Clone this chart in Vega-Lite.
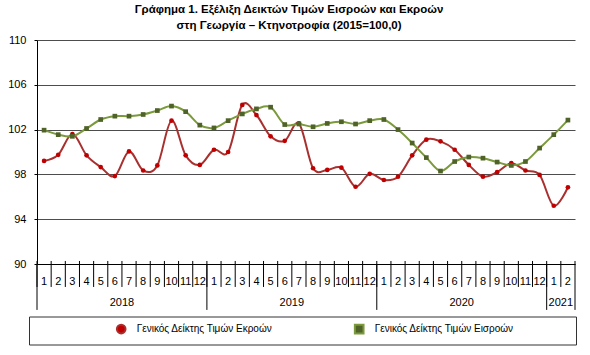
{
  "$schema": "https://vega.github.io/schema/vega-lite/v6.json",
  "width": 538,
  "height": 224,
  "autosize": "none",
  "padding": {"left": 37, "top": 40, "right": 15, "bottom": 91},
  "background": "white",
  "title": {
    "text": ["Γράφημα 1. Εξέλιξη Δεικτών Τιμών Εισροών και Εκροών", "στη Γεωργία – Κτηνοτροφία (2015=100,0)"],
    "anchor": "middle",
    "dx": -17,
    "offset": 3,
    "lineHeight": 16,
    "font": "Liberation Sans",
    "fontSize": 11.5,
    "fontWeight": "bold",
    "color": "#000000"
  },
  "config": {
    "view": {"stroke": null},
    "axis": {"labelFont": "Liberation Sans", "labelColor": "#000000", "tickColor": "#000000", "domainColor": "#000000"}
  },
  "datasets": {
    "main": [
      {"m": "2018-01", "out": 99.2, "in": 101.95},
      {"m": "2018-02", "out": 99.75, "in": 101.55},
      {"m": "2018-03", "out": 101.6, "in": 101.4},
      {"m": "2018-04", "out": 99.7, "in": 102.1},
      {"m": "2018-05", "out": 98.65, "in": 102.9},
      {"m": "2018-06", "out": 97.85, "in": 103.2},
      {"m": "2018-07", "out": 100.05, "in": 103.2},
      {"m": "2018-08", "out": 98.35, "in": 103.35},
      {"m": "2018-09", "out": 98.8, "in": 103.7},
      {"m": "2018-10", "out": 102.8, "in": 104.1},
      {"m": "2018-11", "out": 99.7, "in": 103.6},
      {"m": "2018-12", "out": 98.85, "in": 102.4},
      {"m": "2019-01", "out": 100.2, "in": 102.15},
      {"m": "2019-02", "out": 100.0, "in": 102.8},
      {"m": "2019-03", "out": 104.2, "in": 103.4},
      {"m": "2019-04", "out": 103.3, "in": 103.85},
      {"m": "2019-05", "out": 101.4, "in": 104.0},
      {"m": "2019-06", "out": 101.0, "in": 102.45},
      {"m": "2019-07", "out": 102.55, "in": 102.5},
      {"m": "2019-08", "out": 98.55, "in": 102.25},
      {"m": "2019-09", "out": 98.4, "in": 102.55},
      {"m": "2019-10", "out": 98.6, "in": 102.7},
      {"m": "2019-11", "out": 96.9, "in": 102.5},
      {"m": "2019-12", "out": 98.05, "in": 102.8},
      {"m": "2020-01", "out": 97.5, "in": 102.9},
      {"m": "2020-02", "out": 97.8, "in": 102.0},
      {"m": "2020-03", "out": 99.7, "in": 100.8},
      {"m": "2020-04", "out": 101.1, "in": 99.5},
      {"m": "2020-05", "out": 100.95, "in": 98.3},
      {"m": "2020-06", "out": 100.2, "in": 99.15},
      {"m": "2020-07", "out": 98.85, "in": 99.55},
      {"m": "2020-08", "out": 97.8, "in": 99.45},
      {"m": "2020-09", "out": 98.2, "in": 99.1},
      {"m": "2020-10", "out": 99.0, "in": 98.8},
      {"m": "2020-11", "out": 98.35, "in": 99.15},
      {"m": "2020-12", "out": 97.95, "in": 100.35},
      {"m": "2021-01", "out": 95.2, "in": 101.55},
      {"m": "2021-02", "out": 96.85, "in": 102.85}
    ],
    "years": [
      {"b": "2018-01", "mid": "2018-07", "label": "2018"},
      {"b": "2019-01", "mid": "2019-07", "label": "2019"},
      {"b": "2020-01", "mid": "2020-07", "label": "2020"},
      {"b": "2021-01", "mid": "2021-02", "label": "2021"}
    ],
    "end": [{"b": "2021-02"}]
  },
  "layer": [
    {
      "data": {"name": "main"},
      "transform": [{"fold": ["out", "in"], "as": ["series", "value"]}],
      "mark": {"type": "line", "interpolate": "cardinal", "strokeWidth": 2},
      "encoding": {
        "x": {
          "field": "m", "type": "ordinal", "title": null,
          "scale": {"type": "band", "paddingInner": 0, "paddingOuter": 0},
          "axis": {
            "title": null, "ticks": false, "tickSize": 0,
            "labelExpr": "isString(datum.label) ? (slice(datum.label, 5, 6) == '0' ? slice(datum.label, 6) : slice(datum.label, 5)) : ''",
            "labelAngle": 0, "labelPadding": 11, "labelFontSize": 11, "labelOverlap": false,
            "grid": false, "domain": true
          }
        },
        "y": {
          "field": "value", "type": "quantitative", "title": null,
          "scale": {"domain": [90, 110], "nice": false, "zero": false},
          "axis": {
            "title": null,
            "values": [90, 91, 92, 93, 94, 95, 96, 97, 98, 99, 100, 101, 102, 103, 104, 105, 106, 107, 108, 109, 110],
            "labelExpr": "datum.value % 4 == 2 ? datum.label : ''",
            "tickSize": 3, "labelPadding": 8, "labelFontSize": 11,
            "grid": true, "gridColor": "#4d4d4d", "gridWidth": 1.2,
            "gridOpacity": {"condition": {"test": "datum.value % 4 == 2", "value": 1}, "value": 0},
            "domain": true
          }
        },
        "color": {
          "field": "series", "type": "nominal",
          "scale": {"domain": ["out", "in"], "range": ["#A8302F", "#7A9A3C"]},
          "legend": {
            "orient": "none", "legendX": -8, "legendY": 276.5, "direction": "horizontal",
            "title": " ", "titleOrient": "right", "titlePadding": 55,
            "labelExpr": "datum.value == 'out' ? 'Γενικός Δείκτης Τιμών Εκροών' : 'Γενικός Δείκτης Τιμών Εισροών'",
            "symbolOffset": 79.7, "columnPadding": 1, "padding": 7, "labelOffset": 10,
            "strokeColor": "#333333",
            "labelFont": "Liberation Sans", "labelFontSize": 10, "labelColor": "#000000",
            "symbolSize": 75, "symbolStrokeWidth": 2
          }
        }
      }
    },
    {
      "data": {"name": "main"},
      "transform": [{"fold": ["out", "in"], "as": ["series", "value"]}],
      "mark": {"type": "point", "filled": true, "opacity": 1, "size": 22},
      "encoding": {
        "x": {"field": "m", "type": "ordinal", "title": null},
        "y": {"field": "value", "type": "quantitative", "title": null},
        "fill": {
          "field": "series", "type": "nominal",
          "scale": {"domain": ["out", "in"], "range": ["#C00000", "#4F6228"]},
          "legend": null
        },
        "shape": {
          "field": "series", "type": "nominal",
          "scale": {"domain": ["out", "in"], "range": ["circle", "square"]},
          "legend": null
        }
      }
    },
    {
      "data": {"name": "main"},
      "mark": {"type": "rule", "color": "#000000", "strokeWidth": 1},
      "encoding": {
        "x": {"field": "m", "type": "ordinal", "bandPosition": 0, "title": null},
        "y": {"datum": 90.27, "type": "quantitative", "title": null},
        "y2": {"datum": 87.95}
      }
    },
    {
      "data": {"name": "years"},
      "mark": {"type": "rule", "color": "#000000", "strokeWidth": 1},
      "encoding": {
        "x": {"field": "b", "type": "ordinal", "bandPosition": 0, "title": null},
        "y": {"datum": 90, "type": "quantitative", "title": null},
        "y2": {"datum": 85.9}
      }
    },
    {
      "data": {"name": "end"},
      "mark": {"type": "rule", "color": "#000000", "strokeWidth": 1},
      "encoding": {
        "x": {"field": "b", "type": "ordinal", "bandPosition": 1, "title": null},
        "y": {"datum": 90.27, "type": "quantitative", "title": null},
        "y2": {"datum": 85.9}
      }
    },
    {
      "data": {"name": "years"},
      "mark": {"type": "text", "font": "Liberation Sans", "fontSize": 11, "color": "#000000", "align": "center", "baseline": "middle"},
      "encoding": {
        "x": {"field": "mid", "type": "ordinal", "bandPosition": 0, "title": null},
        "y": {"datum": 86.55, "type": "quantitative", "title": null},
        "text": {"field": "label"}
      }
    }
  ]
}
